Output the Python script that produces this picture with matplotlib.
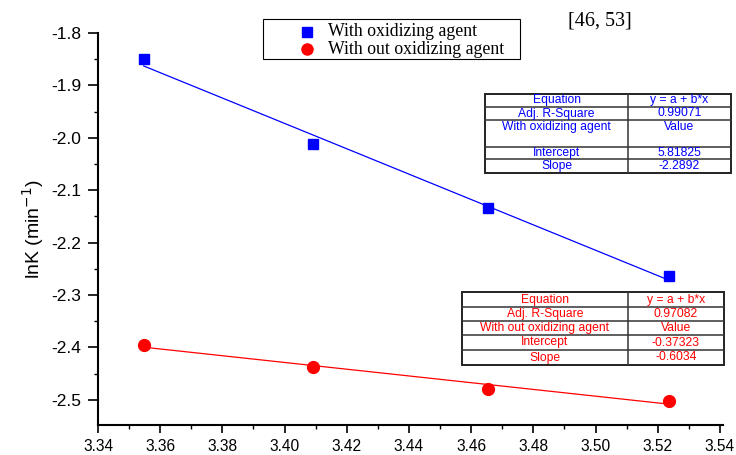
import numpy as np
import matplotlib
matplotlib.use("Agg")
import matplotlib.pyplot as plt
from matplotlib.patches import Rectangle
from matplotlib.lines import Line2D

# ---- data ----
x_vals = [3.3547, 3.4092, 3.4653, 3.5237]
lnk_with = [-1.850, -2.012, -2.134, -2.264]
lnk_without = [-2.395, -2.437, -2.479, -2.502]
x_ticks = [3.34, 3.36, 3.38, 3.40, 3.42, 3.44, 3.46, 3.48, 3.50, 3.52, 3.54]
y_ticks = [-1.8, -1.9, -2.0, -2.1, -2.2, -2.3, -2.4, -2.5]
legend_labels = ["With oxidizing agent", "With out oxidizing agent"]

table_with = [["Equation", "y = a + b*x"],
              ["Adj. R-Square", "0.99071"],
              ["With oxidizing agent", "Value"],
              ["Intercept", "5.81825"],
              ["Slope", "-2.2892"]]
table_without = [["Equation", "y = a + b*x"],
                 ["Adj. R-Square", "0.97082"],
                 ["With out oxidizing agent", "Value"],
                 ["Intercept", "-0.37323"],
                 ["Slope", "-0.6034"]]

W, H = 736, 455
fig = plt.figure(figsize=(W / 100, H / 100), dpi=100)
ax = fig.add_axes([98 / W, 1 - 425 / H, (723 - 98) / W, (425 - 33) / H])

blue = "#0000FF"
red = "#FF0000"

xa = np.array(x_vals)
for ys, col in [(lnk_with, blue), (lnk_without, red)]:
    ya = np.array(ys)
    b, a = np.polyfit(xa, ya, 1)
    xl = np.array([xa.min(), xa.max()])
    ax.plot(xl, a + b * xl, color=col, lw=0.9, zorder=2)

ax.plot(x_vals, lnk_with, ls="none", marker="s", ms=7, color=blue, mec=blue, zorder=3)
ax.plot(x_vals, lnk_without, ls="none", marker="o", ms=8.5, color=red, mec=red, zorder=3)

ax.set_xlim(3.34, 3.541)
ax.set_ylim(-2.548, -1.8)
ax.set_xticks(x_ticks)
ax.set_xticklabels([f"{v:.2f}" for v in x_ticks])
ax.set_yticks(y_ticks)
ax.set_yticklabels([f"{v:.1f}" for v in y_ticks])
ax.set_xticks(np.arange(3.35, 3.541, 0.02), minor=True)
ax.set_yticks(np.arange(-2.45, -1.8, 0.1), minor=True)

for s in ["top", "right"]:
    ax.spines[s].set_visible(False)
for s in ["left", "bottom"]:
    ax.spines[s].set_linewidth(1.5)
ax.tick_params(which="major", direction="out", length=6, width=1.2, pad=4)
ax.tick_params(which="minor", direction="out", length=3.2, width=1.0)
ax.tick_params(axis="x", labelsize=11.2)
ax.tick_params(axis="y", labelsize=12.5, length=7, pad=5)
for lab in ax.get_xticklabels() + ax.get_yticklabels():
    lab.set_fontfamily("Liberation Sans")

ax.set_ylabel("lnK (min$^{-1}$)", fontsize=14, fontfamily="Liberation Sans")
ax.yaxis.set_label_coords(-0.083, 0.5)

tr = fig.transFigure


def fx(px):
    return px / W


def fy(py):
    return 1 - py / H


# legend (drawn manually)
fig.patches.append(Rectangle((fx(263), fy(59)), fx(520) - fx(263), fy(19) - fy(59),
                             transform=tr, facecolor="white", edgecolor="black",
                             lw=0.8, zorder=5))
fig.lines.append(Line2D([fx(307)], [fy(32)], transform=tr, ls="none", marker="s",
                        ms=7, color=blue, zorder=6))
fig.lines.append(Line2D([fx(307)], [fy(49)], transform=tr, ls="none", marker="o",
                        ms=8, color=red, zorder=6))
for lab, yy in zip(legend_labels, [32, 49]):
    fig.text(fx(328), fy(yy), lab, fontsize=12.8, fontfamily="Liberation Serif",
             ha="left", va="center", zorder=7)

fig.text(600 / W, 1 - 21 / H, "[46, 53]", fontsize=14.5, fontfamily="Liberation Serif",
         ha="center", va="center")


def draw_table(rows, x0, x1, xmid, ys, color):
    rect = Rectangle((fx(x0), fy(ys[-1])), fx(x1) - fx(x0), fy(ys[0]) - fy(ys[-1]),
                     transform=tr, facecolor="white", edgecolor="#222222", lw=1.4, zorder=5)
    fig.patches.append(rect)
    for yb in ys[1:-1]:
        fig.lines.append(Line2D([fx(x0), fx(x1)], [fy(yb), fy(yb)], transform=tr,
                                color="#333333", lw=1.1, zorder=6))
    fig.lines.append(Line2D([fx(xmid), fx(xmid)], [fy(ys[0]), fy(ys[-1])], transform=tr,
                            color="#333333", lw=1.1, zorder=6))
    for i, (c1, c2) in enumerate(rows):
        top, bot = ys[i], ys[i + 1]
        if bot - top > 20:
            yc = top + 7
        else:
            yc = (top + bot) / 2
        fig.text(fx((x0 + xmid) / 2), fy(yc), c1, color=color, fontsize=8.7,
                 fontfamily="Liberation Sans", ha="center", va="center", zorder=7)
        fig.text(fx((xmid + x1) / 2), fy(yc), c2, color=color, fontsize=8.7,
                 fontfamily="Liberation Sans", ha="center", va="center", zorder=7)


draw_table(table_with, 485, 731, 628, [94, 107, 120, 147, 159, 173], blue)
draw_table(table_without, 462, 724, 628, [292, 307, 321, 335, 350, 365], red)

fig.savefig("out.png", dpi=100)
